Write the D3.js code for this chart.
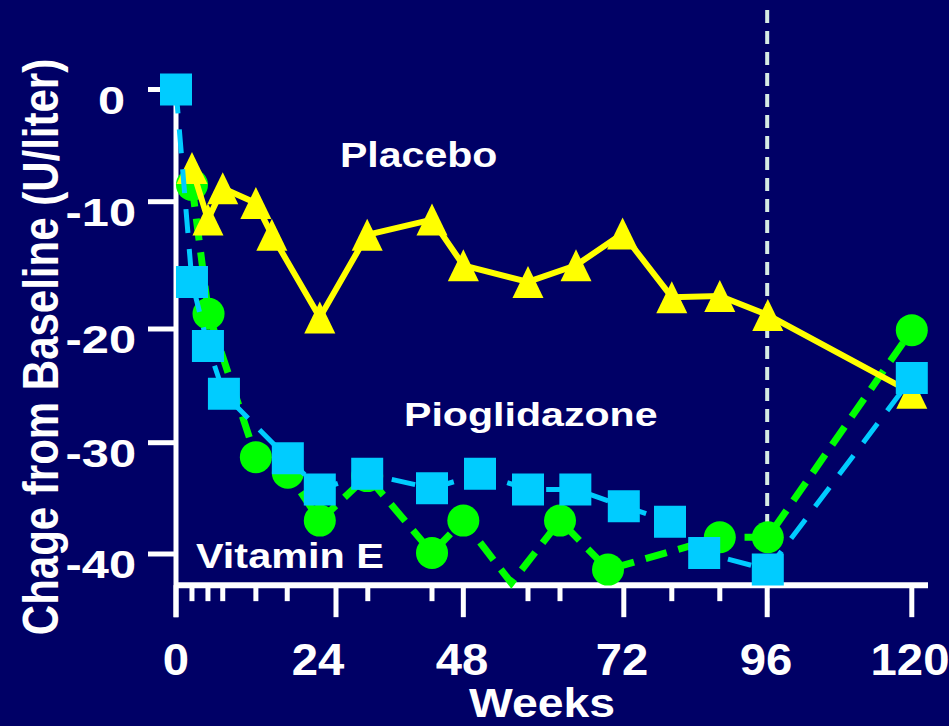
<!DOCTYPE html>
<html>
<head>
<meta charset="utf-8">
<script src="https://cdn.jsdelivr.net/npm/d3@7"></script>
<style>
  html, body { margin: 0; padding: 0; background: #000066; }
  svg { display: block; }
  text { font-family: "Liberation Sans", Arial, Helvetica, sans-serif; font-weight: bold; fill: #ffffff; }
</style>
</head>
<body>
<svg id="chart" width="949" height="726"></svg>
<script>
// Axis ticks
const xTickValues = [0, 24, 48, 72, 96, 120];
const yTickValues = [0, -10, -20, -30, -40];
const majorTickWeeks = [0, 27, 48.2, 72.3, 96.2, 120.3];
const minorTickWeeks = [2.7, 5.4, 7.9, 13.5, 18.8, 32.3, 43, 57.9, 62.7, 80.3, 88.3];
const referenceWeek = 96.2;

// Placebo
const placeboWeeks  = [2.7, 5.4, 7.9, 13.5, 16.2, 24.3, 32.2, 43, 48.2, 57.9, 65.1, 72.1, 80.3, 88.3, 96.3, 120.3];
const placeboValues = [-7.0, -11.4, -8.8, -10.1, -12.6, -19.1, -12.6, -11.4, -15.0, -16.3, -15.0, -12.5, -17.5, -17.4, -18.9, -25.6];

// Pioglitazone
const pioWeeks  = [0, 2.7, 5.4, 8.1, 18.9, 24.3, 32.2, 43, 50.7, 57.9, 65, 72.3, 80, 85.7, 96.3, 120.3];
const pioValues = [0, -16.3, -21.5, -25.7, -31.4, -34.2, -32.8, -34.1, -32.8, -34.2, -34.2, -35.7, -37.1, -39.9, -41.4, -24.3];

// Vitamin E
const vitEWeeks  = [2.7, 5.5, 13.5, 18.9, 24.3, 32.2, 43, 48.2, 55.4, 62.7, 69.9, 88.3, 96.3, 120.3];
const vitEValues = [-8.5, -18.8, -31.3, -32.7, -37.0, -33.0, -39.9, -37.0, -42.6, -37.0, -41.4, -38.5, -38.5, -20.1];

const yFloor = -42.8;      // where the week axis sits
const markerFloor = -42.5; // points dipping onto the axis carry no marker
const xEnd = 123;

const svg = d3.select("#chart");
svg.append("rect").attr("width", 949).attr("height", 726).attr("fill", "#000066");

const x = d3.scaleLinear().domain(xTickValues).range([176, 318, 462, 622, 766, 910]);
const y = d3.scaleLinear().domain(yTickValues).range([89.5, 201.7, 329, 442.7, 554]);

const axisY = y(yFloor);
const tickBottom = axisY + 32;

// stretched bold text helper
function label(g, str, px, py, size, sx, anchor) {
  return g.append("text")
    .attr("transform", `translate(${px},${py}) scale(${sx},1)`)
    .attr("font-size", size)
    .attr("text-anchor", anchor || "start")
    .text(str);
}

// reference line at week 96
svg.append("line")
  .attr("x1", x(referenceWeek)).attr("x2", x(referenceWeek))
  .attr("y1", 10).attr("y2", tickBottom)
  .attr("stroke", "#d6ece4").attr("stroke-width", 4)
  .attr("stroke-dasharray", "13,8");

// axes
const axes = svg.append("g").attr("stroke", "#ffffff").attr("stroke-width", 5);
axes.append("line").attr("x1", x(0)).attr("x2", x(0)).attr("y1", y(0)).attr("y2", tickBottom);
axes.append("line").attr("x1", x(0)).attr("x2", x(xEnd)).attr("y1", axisY).attr("y2", axisY).attr("stroke-width", 6);
axes.selectAll(".ytick").data(yTickValues).join("line")
  .attr("x1", x(0) - 28).attr("x2", x(0))
  .attr("y1", d => y(d)).attr("y2", d => y(d));
axes.selectAll(".minor").data(minorTickWeeks).join("line")
  .attr("x1", d => x(d)).attr("x2", d => x(d))
  .attr("y1", axisY).attr("y2", axisY + 16);
axes.selectAll(".major").data(majorTickWeeks).join("line")
  .attr("x1", d => x(d)).attr("x2", d => x(d))
  .attr("y1", axisY).attr("y2", tickBottom);

// tick labels
const labels = svg.append("g");
yTickValues.forEach(v => {
  label(labels, String(v), 136 + (v === 0 ? -11 : 0), y(v) + 24, 39, 1.25, "end");
});
xTickValues.forEach(v => {
  label(labels, String(v), x(v), 675, 45, 1.05, "middle");
});

// axis titles
svg.append("text")
  .attr("transform", `translate(58,347) scale(1.18,1) rotate(-90)`)
  .attr("font-size", 42)
  .attr("text-anchor", "middle")
  .text("Chage from Baseline (U/liter)");
label(svg, "Weeks", 542, 717, 40, 1.16, "middle");

// series
const triangle = {
  draw(ctx, size) {
    const h = Math.sqrt(size), w = h * 0.97;
    ctx.moveTo(0, -h / 2);
    ctx.lineTo(w / 2, h / 2);
    ctx.lineTo(-w / 2, h / 2);
    ctx.closePath();
  }
};

const series = [
  { weeks: vitEWeeks, values: vitEValues, color: "#00ff00", width: 7, dash: "22,12", symbol: d3.symbolCircle, size: Math.PI * 16 * 16 },
  { weeks: placeboWeeks, values: placeboValues, color: "#ffff00", width: 6, dash: null, symbol: triangle, size: 32 * 32 },
  { weeks: pioWeeks, values: pioValues, color: "#00ccff", width: 5, dash: "24,16", symbol: d3.symbolSquare, size: 32 * 32 }
];

const line = d3.line().x(d => x(d.w)).y(d => y(d.v));

series.forEach(s => {
  const pts = s.weeks.map((w, i) => ({ w, v: s.values[i] }));
  const g = svg.append("g");
  g.append("path")
    .datum(pts)
    .attr("d", line)
    .attr("fill", "none")
    .attr("stroke", s.color)
    .attr("stroke-width", s.width)
    .attr("stroke-linejoin", "miter")
    .attr("stroke-dasharray", s.dash);
  g.selectAll("path.marker")
    .data(pts.filter(d => d.v > markerFloor))
    .join("path")
    .attr("class", "marker")
    .attr("transform", d => `translate(${x(d.w)},${y(d.v)})`)
    .attr("d", d3.symbol().type(s.symbol).size(s.size))
    .attr("fill", s.color);
});

// series names
label(svg, "Placebo", 340, 167, 34.5, 1.19, "start");
label(svg, "Pioglidazone", 404, 426, 34, 1.21, "start");
label(svg, "Vitamin E", 196, 568, 36, 1.15, "start");
</script>
</body>
</html>
